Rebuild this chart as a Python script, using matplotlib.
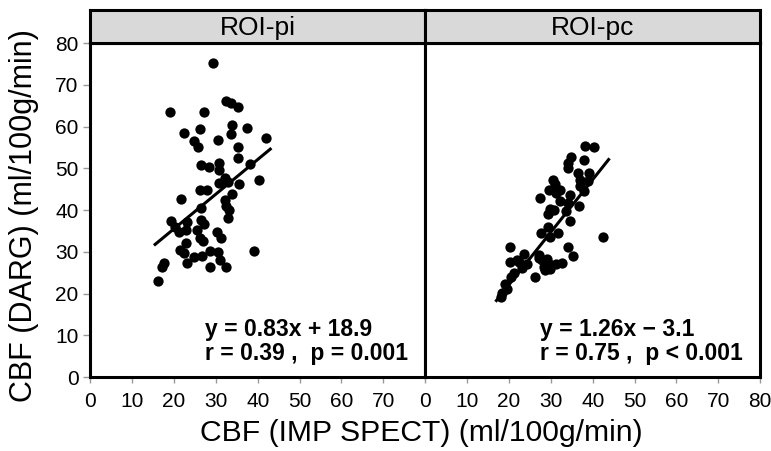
import matplotlib.pyplot as plt
import numpy as np

# Data
panels = ['ROI-pi', 'ROI-pc']

pi_x = [29.3, 32.4, 33.6, 35.3, 19.1, 27.1, 33.9, 37.5, 26.3, 22.4, 33.6, 24.9, 30.6, 42.0,
        25.7, 35.3, 35.2, 26.5, 28.3, 30.7, 30.8, 38.2, 32.2, 30.8, 32.9, 35.6, 40.2, 26.3,
        28.0, 33.8, 21.7, 32.1, 32.4, 26.5, 33.2, 33.0, 19.3, 26.5, 23.1, 27.1, 20.3, 21.3,
        22.9, 25.6, 30.3, 26.3, 26.9, 31.2, 22.8, 21.5, 22.3, 28.5, 30.4, 39.0, 24.7, 26.7,
        30.9, 23.2, 17.7, 17.1, 28.5, 32.5, 16.3]
pi_y = [75.1, 66.2, 65.7, 64.7, 63.5, 63.4, 60.3, 59.7, 59.3, 58.4, 58.3, 56.6, 56.8, 57.2,
        55.2, 55.0, 52.5, 50.8, 50.3, 51.2, 49.6, 51.1, 47.6, 46.4, 46.6, 46.2, 47.2, 44.9,
        44.7, 43.8, 42.6, 42.4, 41.0, 40.4, 40.1, 38.2, 37.3, 37.6, 37.2, 36.6, 36.0, 34.8,
        35.2, 35.2, 34.8, 33.2, 32.6, 33.2, 32.0, 30.4, 29.8, 30.3, 29.9, 30.3, 28.8, 29.1,
        28.0, 27.2, 27.2, 26.4, 26.4, 26.4, 23.1]

pc_x = [38.2, 40.2, 34.8, 38.0, 34.2, 34.0, 36.4, 39.2, 30.6, 37.0, 38.9, 31.0, 36.9, 29.6,
        32.2, 38.0, 31.2, 34.6, 27.5, 32.2, 34.0, 36.8, 29.9, 30.8, 33.7, 29.4, 34.5, 29.4,
        27.6, 31.6, 29.9, 42.4, 20.3, 34.0, 23.5, 27.1, 35.2, 20.3, 21.9, 27.9, 29.4, 32.6,
        31.3, 24.3, 28.3, 29.9, 23.1, 21.1, 20.5, 26.3, 19.1, 19.5, 18.3, 18.1, 22.5, 29.1,
        27.1, 28.7]
pc_y = [55.4, 55.2, 52.6, 52.1, 51.3, 50.1, 48.9, 48.8, 47.2, 47.3, 46.9, 46.2, 45.7, 44.8,
        44.8, 44.6, 44.0, 43.6, 42.9, 42.2, 41.6, 41.0, 40.2, 40.0, 39.8, 39.0, 37.4, 36.0,
        34.4, 34.4, 33.5, 33.5, 31.2, 31.2, 29.4, 29.2, 29.0, 27.6, 28.0, 28.0, 27.4, 27.2,
        27.1, 27.0, 26.4, 25.8, 26.0, 24.8, 24.0, 23.9, 22.4, 21.2, 20.2, 19.1, 27.6, 28.2,
        28.4, 25.6]

# regression: slope, intercept, x range of the drawn line
fits = [(0.83, 18.9, 15.5, 43.0), (1.26, -3.1, 17.0, 43.8)]
eq_text = ['y = 0.83x + 18.9', 'y = 1.26x \u2212 3.1']
r_text = ['r = 0.39 ,  p = 0.001', 'r = 0.75 ,  p < 0.001']

plt.rcParams['font.family'] = ['Liberation Sans', 'DejaVu Sans']

fig = plt.figure(figsize=(7.71, 4.51), dpi=100)
left, bottom, pw, ph = 0.117, 0.164, 0.4345, 0.7406
strip_h = 0.073

for i, (xs, ys) in enumerate([(pi_x, pi_y), (pc_x, pc_y)]):
    ax = fig.add_axes([left + i * pw, bottom, pw, ph])
    ax.scatter(xs, ys, s=55, color='black', zorder=3, linewidths=0)
    a, b, x0, x1 = fits[i]
    lx = np.array([x0, x1])
    ax.plot(lx, a * lx + b, color='black', lw=2.2, zorder=2)
    ax.set_xlim(0, 80)
    ax.set_ylim(0, 80)
    ax.text(27.3, 11.4, eq_text[i], fontsize=16.5, fontweight='bold', va='center', ha='left')
    ax.text(27.3, 5.6, r_text[i], fontsize=16.5, fontweight='bold', va='center', ha='left')
    xt = np.arange(0, 80, 10) if i == 0 else np.arange(0, 90, 10)
    ax.set_xticks(xt)
    ax.set_xticklabels([str(v) for v in xt], fontsize=15)
    ax.set_yticks(np.arange(0, 90, 10))
    if i == 0:
        ax.tick_params(axis='y', labelsize=15, colors='black', color='#999999',
                       length=5, width=1)
    else:
        ax.tick_params(axis='y', left=False, labelleft=False)
    ax.tick_params(axis='x', color='#999999', length=4, width=1, pad=7)
    for sp in ax.spines.values():
        sp.set_linewidth(2.2)
        sp.set_color('black')

    # header strip
    sx = fig.add_axes([left + i * pw, bottom + ph, pw, strip_h])
    sx.set_xticks([])
    sx.set_yticks([])
    sx.set_facecolor('#d9d9d9')
    for sp in sx.spines.values():
        sp.set_linewidth(2.2)
    sx.text(0.5, 0.45, panels[i], transform=sx.transAxes, ha='center', va='center',
            fontsize=19)

fig.text(0.546, 0.04, 'CBF (IMP SPECT) (ml/100g/min)', ha='center', va='center',
         fontsize=21.7)
fig.text(0.031, 0.523, 'CBF (DARG) (ml/100g/min)', ha='center', va='center',
         rotation=90, fontsize=22)

plt.savefig('out.png', dpi=100, facecolor='white')
